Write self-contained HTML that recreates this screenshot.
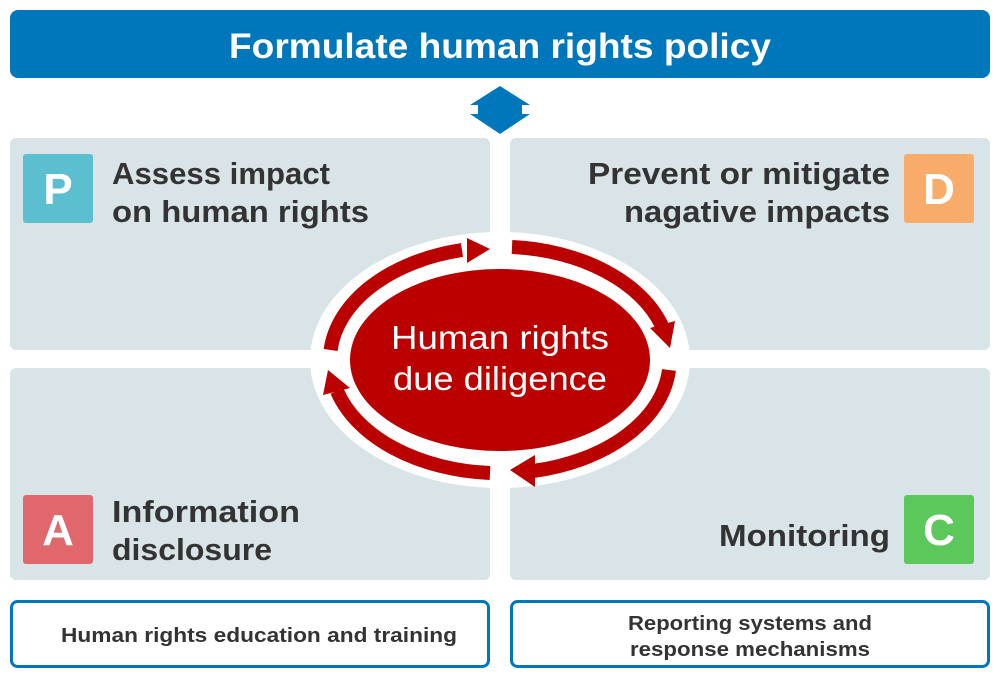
<!DOCTYPE html>
<html><head><meta charset="utf-8"><style>
html,body{margin:0;padding:0;background:#fff;width:1000px;height:680px;overflow:hidden}
svg text{font-family:"Liberation Sans",sans-serif;font-weight:bold}
</style></head><body>
<svg width="1000" height="680" viewBox="0 0 1000 680" xmlns="http://www.w3.org/2000/svg">
<rect x="10" y="10" width="980" height="68" rx="8" fill="#0077bb"/>
<text x="500" y="58" font-size="35" fill="#fff" text-anchor="middle" textLength="542" lengthAdjust="spacingAndGlyphs">Formulate human rights policy</text>
<polygon points="500,86 530,105 522,105 522,114 530,114 500,134 470,114 478,114 478,105 470,105" fill="#0077bb"/>
<rect x="10" y="138" width="480" height="212" rx="6" fill="#d9e4e8"/>
<rect x="510" y="138" width="480" height="212" rx="6" fill="#d9e4e8"/>
<rect x="10" y="368" width="480" height="212" rx="6" fill="#d9e4e8"/>
<rect x="510" y="368" width="480" height="212" rx="6" fill="#d9e4e8"/>
<rect x="23" y="154" width="70" height="69" rx="3" fill="#5bbfcf"/>
<rect x="904" y="154" width="70" height="69" rx="3" fill="#f9ac6a"/>
<rect x="23" y="495" width="70" height="69" rx="3" fill="#e0676b"/>
<rect x="904" y="495" width="70" height="69" rx="3" fill="#5cc85c"/>
<g font-size="44" fill="#fff" text-anchor="middle">
<text x="58" y="204">P</text><text x="939" y="204">D</text>
<text x="58" y="545">A</text><text x="939" y="545">C</text>
</g>
<g font-size="31" fill="#333">
<text x="112" y="184" textLength="218" lengthAdjust="spacingAndGlyphs">Assess impact</text>
<text x="112" y="222" textLength="257" lengthAdjust="spacingAndGlyphs">on human rights</text>
<text x="890" y="184" text-anchor="end" textLength="302" lengthAdjust="spacingAndGlyphs">Prevent or mitigate</text>
<text x="890" y="222" text-anchor="end" textLength="266" lengthAdjust="spacingAndGlyphs">nagative impacts</text>
<text x="112" y="522" textLength="188" lengthAdjust="spacingAndGlyphs">Information</text>
<text x="112" y="560" textLength="160" lengthAdjust="spacingAndGlyphs">disclosure</text>
<text x="890" y="546" text-anchor="end" textLength="171" lengthAdjust="spacingAndGlyphs">Monitoring</text>
</g>
<ellipse cx="500" cy="360" rx="190" ry="128" fill="#fff"/>
<ellipse cx="500" cy="360" rx="150" ry="91" fill="#bb0000"/>
<g fill="none" stroke="#bb0000" stroke-width="14">
<path d="M330.6,350 A170,113 0 0 1 462,250"/>
<path d="M512,247 A170,113 0 0 1 662,326"/>
<path d="M669,370 A170,113 0 0 1 533,471"/>
<path d="M490,473 A170,113 0 0 1 337,391"/>
</g>
<g fill="#bb0000">
<polygon points="490,249 467,238 467,263"/>
<polygon points="670,348 650,328 675,321"/>
<polygon points="510,470 535,455 535,487"/>
<polygon points="328,370 323,395 350,388"/>
</g>
<text x="500" y="349" font-size="33" fill="#fff" text-anchor="middle" font-weight="normal" style="font-weight:normal" textLength="218" lengthAdjust="spacingAndGlyphs">Human rights</text>
<text x="500" y="390" font-size="33" fill="#fff" text-anchor="middle" style="font-weight:normal" textLength="214" lengthAdjust="spacingAndGlyphs">due diligence</text>
<rect x="11.5" y="601.5" width="477" height="65" rx="6" fill="#fff" stroke="#0077bb" stroke-width="3"/>
<rect x="511.5" y="601.5" width="477" height="65" rx="6" fill="#fff" stroke="#0077bb" stroke-width="3"/>
<g font-size="20" fill="#333" text-anchor="middle">
<text x="259" y="642" textLength="396" lengthAdjust="spacingAndGlyphs">Human rights education and training</text>
<text x="750" y="630" textLength="244" lengthAdjust="spacingAndGlyphs">Reporting systems and</text>
<text x="750" y="656" textLength="240" lengthAdjust="spacingAndGlyphs">response mechanisms</text>
</g>
</svg>
</body></html>
